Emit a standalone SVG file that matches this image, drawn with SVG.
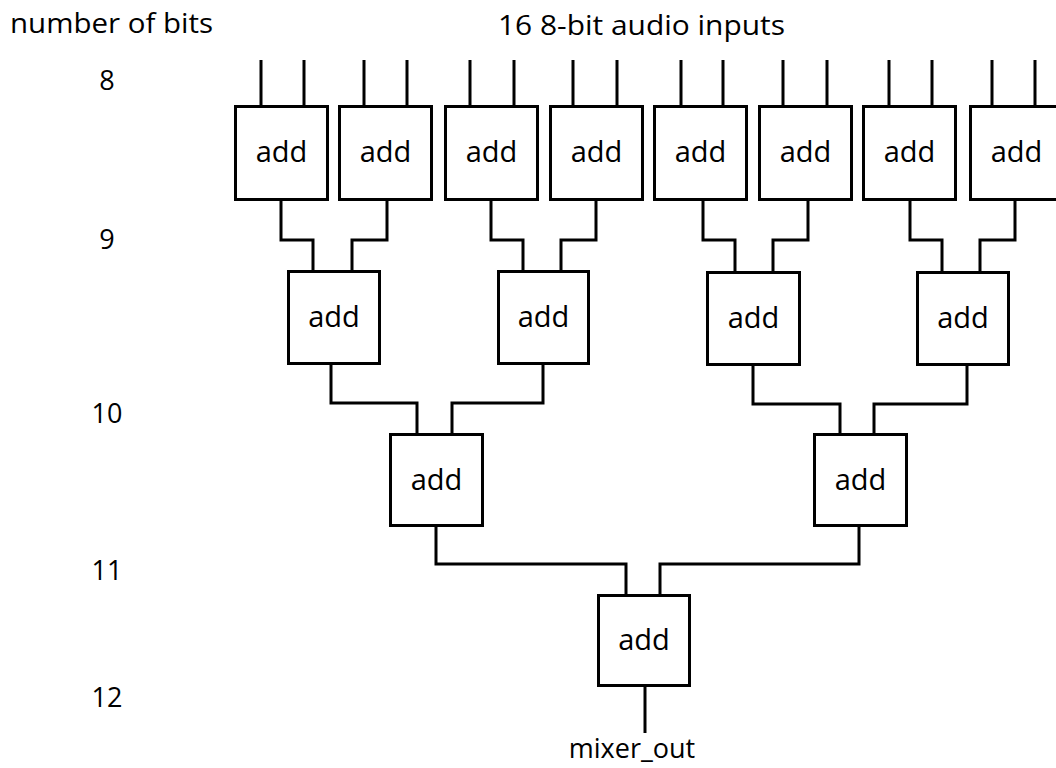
<svg xmlns="http://www.w3.org/2000/svg" width="1056" height="768" viewBox="0 0 1056 768">
<style>
.box{fill:#fff;stroke:#000;stroke-width:3}
.w{fill:none;stroke:#000;stroke-width:3;stroke-linejoin:miter;stroke-linecap:butt}
.t{font-family:"Open Sans","Liberation Sans",sans-serif;font-size:29px;fill:#000;text-anchor:middle}
.lbl{font-family:"Open Sans","Liberation Sans",sans-serif;font-size:27px;fill:#000}
</style>
<rect width="1056" height="768" fill="#fff"/>
<text class="lbl" x="10" y="33" textLength="203" lengthAdjust="spacingAndGlyphs">number of bits</text>
<text class="lbl" x="498" y="35" textLength="287" lengthAdjust="spacingAndGlyphs">16 8-bit audio inputs</text>
<g id="bits" class="lbl" text-anchor="middle">
<text x="107" y="90" text-anchor="middle">8</text>
<text x="107" y="249" text-anchor="middle">9</text>
<text x="107" y="423" text-anchor="middle">10</text>
<text x="107" y="580" text-anchor="middle">11</text>
<text x="107" y="707" text-anchor="middle">12</text>
</g>
<g id="connectors" class="w">
<path d="M261 60V105M304 60V105M364 60V105M407 60V105M470 60V105M514 60V105M573 60V105M617 60V105M681 60V105M723 60V105M783 60V105M827 60V105M889 60V105M932 60V105M992 60V105M1035 60V105"/>
<path d="M281 201V240H313V270M387 201V240H352V270"/>
<path d="M491 201V240H523V270M596 201V240H561V270"/>
<path d="M703 201V240H735V271M808 201V240H773V271"/>
<path d="M910 201V240H942V271M1015 201V240H980V271"/>
<path d="M331 365V403H417V433M543 365V403H452V433"/>
<path d="M753 366V404H840V433M967 366V404H874V433"/>
<path d="M436 527V564H626V594M859 527V564H660V594"/>
<path d="M645 687V733"/>
</g>
<g id="add1"><rect class="box" x="235.5" y="106.5" width="92" height="93"/><text class="t" x="281.5" y="162">add</text></g>
<g id="add2"><rect class="box" x="339.5" y="106.5" width="92" height="93"/><text class="t" x="385.5" y="162">add</text></g>
<g id="add3"><rect class="box" x="445.5" y="106.5" width="92" height="93"/><text class="t" x="491.5" y="162">add</text></g>
<g id="add4"><rect class="box" x="550.5" y="106.5" width="92" height="93"/><text class="t" x="596.5" y="162">add</text></g>
<g id="add5"><rect class="box" x="654.5" y="106.5" width="92" height="93"/><text class="t" x="700.5" y="162">add</text></g>
<g id="add6"><rect class="box" x="759.5" y="106.5" width="92" height="93"/><text class="t" x="805.5" y="162">add</text></g>
<g id="add7"><rect class="box" x="863.5" y="106.5" width="92" height="93"/><text class="t" x="909.5" y="162">add</text></g>
<g id="add8"><rect class="box" x="970.5" y="106.5" width="92" height="93"/><text class="t" x="1016.5" y="162">add</text></g>
<g id="add9"><rect class="box" x="288.5" y="271.5" width="91" height="92"/><text class="t" x="334" y="327">add</text></g>
<g id="add10"><rect class="box" x="498.5" y="271.5" width="90" height="92"/><text class="t" x="543.5" y="327">add</text></g>
<g id="add11"><rect class="box" x="707.5" y="272.5" width="92" height="92"/><text class="t" x="753.5" y="328">add</text></g>
<g id="add12"><rect class="box" x="917.5" y="272.5" width="91" height="92"/><text class="t" x="963" y="328">add</text></g>
<g id="add13"><rect class="box" x="390.5" y="434.5" width="92" height="91"/><text class="t" x="436.5" y="490">add</text></g>
<g id="add14"><rect class="box" x="814.5" y="434.5" width="92" height="91"/><text class="t" x="860.5" y="490">add</text></g>
<g id="add15"><rect class="box" x="598.5" y="595.5" width="91" height="90"/><text class="t" x="644" y="650">add</text></g>
<text class="lbl" x="632" y="758" text-anchor="middle">mixer_out</text>
</svg>
